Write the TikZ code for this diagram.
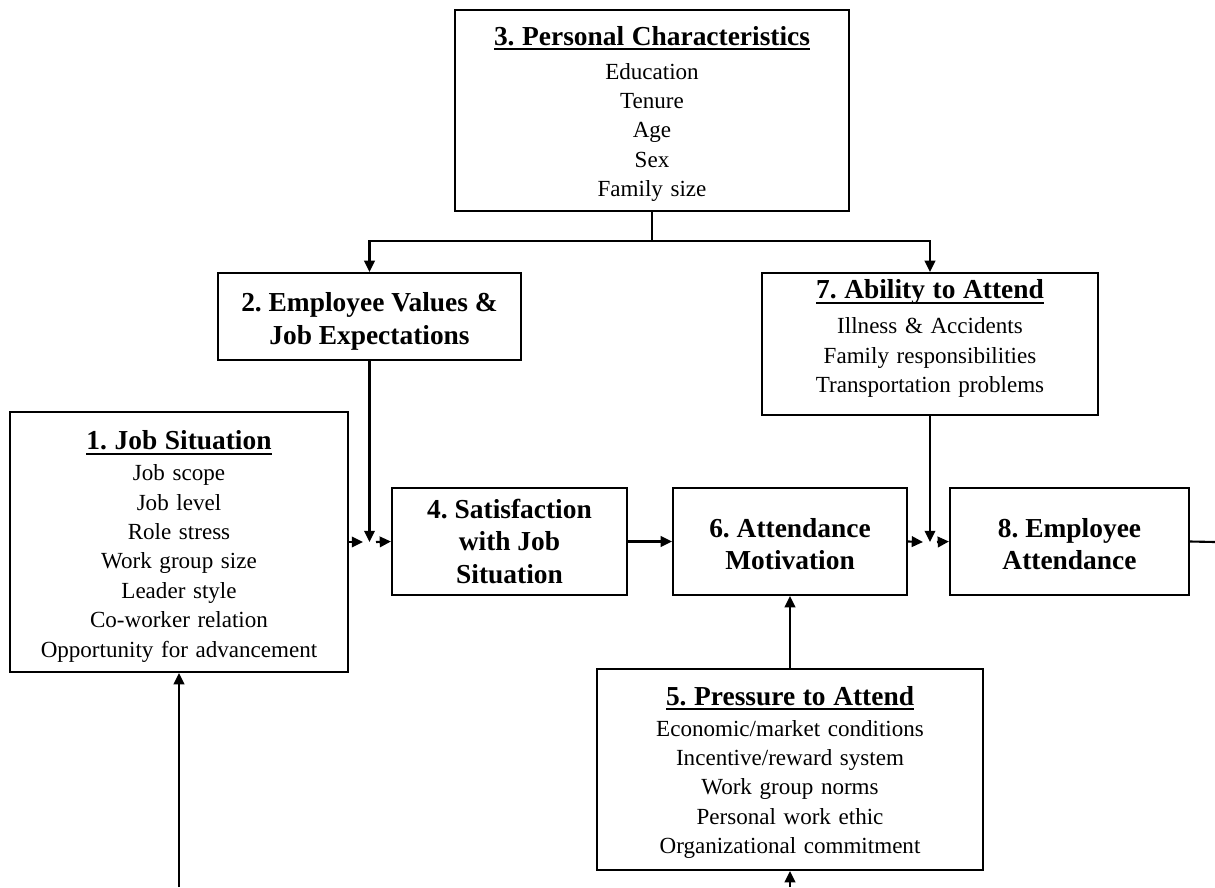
\documentclass[tikz,border=0pt]{standalone}
\usepackage{fontspec}
\setmainfont{Liberation Serif}
\usetikzlibrary{arrows.meta}

\newcommand{\itemsize}{\fontsize{16.4}{20.9}\selectfont\frenchspacing\spaceskip=0.33em plus 0.1em}
\newcommand{\headsize}{\fontsize{19.5}{23}\selectfont\bfseries\frenchspacing}
\newcommand{\headul}[1]{\setbox0=\hbox{#1}\rlap{\rule[-3.6pt]{\wd0}{1.3pt}}\box0}
\newcommand{\headline}[3][1.2pt]{\rule{0pt}{#2}{\headsize\headul{#3}}\\[#1]}
\newcommand{\topstrut}[1]{\rule{0pt}{#1}}
\newcommand{\botstrut}[1]{\rule[-#1]{0pt}{#1}}

\begin{document}
\begin{tikzpicture}[x=0.025cm,y=-0.025cm,line width=1.5pt,
	box/.style={draw,rectangle,align=center,inner sep=0pt,font=\itemsize},
	headbox/.style={box,font=\headsize},
	arr/.style={-{Triangle[length=8pt,width=7.5pt]}}]
	\useasboundingbox (0,0) rectangle (1215,887);

	% Boxes
	\node[box,minimum width=9.85cm,minimum height=5.025cm] (pers) at (652,110.5)
		{\headline[3.2pt]{18.3pt}{3. Personal Characteristics}Education\\Tenure\\Age\\Sex\\Family size};
	\node[headbox,minimum width=7.575cm,minimum height=2.175cm] (vals) at (369.5,316.5)
		{\topstrut{20.4pt}2. Employee Values \&\\Job Expectations};
	\node[box,minimum width=8.4cm,minimum height=3.55cm] (abil) at (930,344)
		{\headline[4.2pt]{0pt}{7. Ability to Attend}Illness \& Accidents\\Family responsibilities\\Transportation problems\botstrut{11.2pt}};
	\node[box,minimum width=8.45cm,minimum height=6.5cm] (job) at (179,542)
		{\headline{19.7pt}{1. Job Situation}Job scope\\Job level\\Role stress\\Work group size\\Leader style\\Co-worker relation\\Opportunity for advancement};
	\node[headbox,minimum width=5.875cm,minimum height=2.675cm] (satis) at (509.5,541.5)
		{4. Satisfaction\\with Job\\Situation};
	\node[headbox,minimum width=5.85cm,minimum height=2.675cm] (motiv) at (790,541.5)
		{\topstrut{16.9pt}6. Attendance\\Motivation};
	\node[headbox,minimum width=5.975cm,minimum height=2.675cm] (attend) at (1069.5,541.5)
		{\topstrut{16.9pt}8. Employee\\Attendance};
	\node[box,minimum width=9.65cm,minimum height=5.025cm] (press) at (790,769.5)
		{\headline{17.5pt}{5. Pressure to Attend}Economic/market conditions\\Incentive/reward system\\Work group norms\\Personal work ethic\\Organizational commitment};

	% Junction points
	\coordinate (split) at (652,241);
	\coordinate (jsat) at (369.5,542);
	\coordinate (jsatin) at (363,542);
	\coordinate (jsatout) at (376,542);
	\coordinate (jatt) at (930,542);
	\coordinate (jattin) at (923,542);
	\coordinate (jattout) at (937,542);
	\coordinate (loopjob) at (179,887);
	\coordinate (looppress) at (790,887);
	\coordinate (loopright) at (1215,542);

	% Connectors
	\draw (pers.south) -- (split);
	\draw[arr] (split) -| (vals.north);
	\draw[arr] (split) -| (abil.north);
	\draw[arr] (vals.south) -- (jsat);
	\draw[arr] (job.east) -- (jsatin);
	\draw[arr] (jsatout) -- (satis.west);
	\draw[arr] (satis.east) -- (motiv.west);
	\draw[arr] (abil.south) -- (jatt);
	\draw[arr] (motiv.east) -- (jattin);
	\draw[arr] (jattout) -- (attend.west);
	\draw (attend.east) -- (loopright);
	\draw[arr] (press.north) -- (motiv.south);
	\draw[arr] (looppress) -- (press.south);
	\draw[arr] (loopjob) -- (job.south);
\end{tikzpicture}
\end{document}
